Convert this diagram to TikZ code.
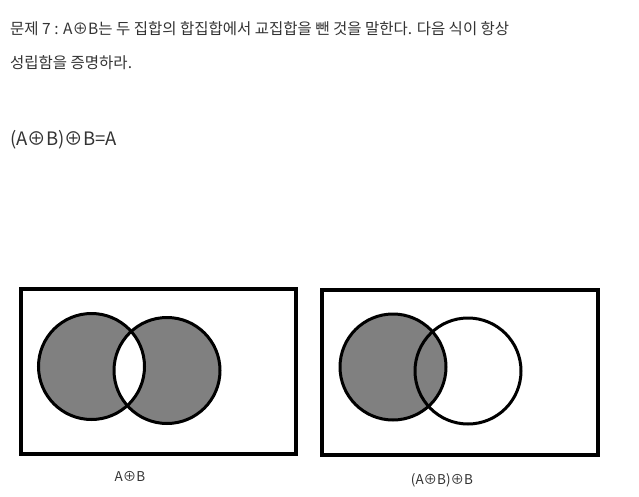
\documentclass[tikz,border=0pt]{standalone}
\usepackage{fontspec}
\setmainfont{Noto Sans CJK KR}
\definecolor{txt}{HTML}{333333}
\definecolor{grayfill}{HTML}{808080}
\begin{document}
\begin{tikzpicture}[x=1pt,y=-1pt,
  body/.style={font=\fontsize{15.5}{18}\selectfont, text=txt, anchor=west, inner sep=0pt},
  formula/.style={font=\fontsize{18.5}{21}\selectfont, text=txt, anchor=west, inner sep=0pt},
  caption/.style={font=\fontsize{13.5}{15}\selectfont, text=txt, inner sep=0pt},
  frame/.style={draw=black, line width=3.2pt},
  ring/.style={draw=black, line width=3pt}]
\useasboundingbox (0,0) rectangle (639,497);
\node[body] (l1) at (10,29) {문제 7 : A⊕B는 두 집합의 합집합에서 교집합을 뺀 것을 말한다. 다음 식이 항상};
\node[body] (l2) at (10,63) {성립함을 증명하라.};
\node[formula] (eq) at (10,140) {(A⊕B)⊕B=A};
% left diagram
\draw[frame] (21,289) rectangle (296,454);
\fill[grayfill] (91.5,366.5) circle (53);
\fill[grayfill] (167,370.5) circle (53);
\begin{scope}
\clip (91.5,366.5) circle (53);
\fill[white] (167,370.5) circle (53);
\end{scope}
\draw[ring] (91.5,366.5) circle (53);
\draw[ring] (167,370.5) circle (53);
\node[caption] (c1) at (130,476) {A⊕B};
% right diagram
\draw[frame] (322,290) rectangle (598,455);
\fill[grayfill] (393,367) circle (53);
\draw[ring] (393,367) circle (53);
\draw[ring] (468,371) circle (53);
\node[caption] (c2) at (442,480) {(A⊕B)⊕B};
\end{tikzpicture}
\end{document}
